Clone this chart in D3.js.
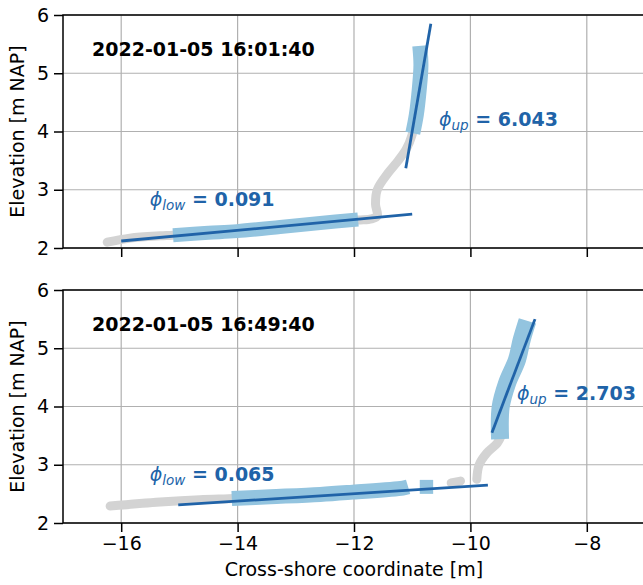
<!DOCTYPE html>
<html>
<head>
<meta charset="utf-8">
<script src="https://cdn.jsdelivr.net/npm/d3@7"></script>
<style>
  body { margin: 0; background: #fff; }
  text { font-family: "DejaVu Sans", sans-serif; }
</style>
</head>
<body>
<div id="chart"></div>
<script>
// tick values
const xTicks = [-16, -14, -12, -10, -8]
const yTicks = [2, 3, 4, 5, 6]

// panel 1 : 2022-01-05 16:01:40  (x, elevation)
const grayA = [[-16.24, 2.10], [-15.85, 2.17], [-15.33, 2.21], [-15.11, 2.22], [-14.01, 2.29], [-12.58, 2.43],
  [-11.93, 2.48], [-11.7, 2.50], [-11.6, 2.55], [-11.63, 2.75], [-11.6, 3.0], [-11.42, 3.28], [-11.24, 3.50],
  [-11.1, 3.70], [-11.0, 3.95], [-10.95, 4.2]]
const blueALow = [[-15.11, 2.22], [-14.5, 2.26], [-14.01, 2.29], [-13.27, 2.36], [-12.58, 2.43], [-11.93, 2.49]]
const blueAUp = [[-10.99, 3.97], [-10.93, 4.28], [-10.88, 4.71], [-10.85, 5.14], [-10.87, 5.47]]
const fitALow = [[-16, 2.12], [-11, 2.58]]
const fitAUp = [[-11.11, 3.37], [-10.68, 5.85]]

// panel 2 : 2022-01-05 16:49:40
const grayB = [[-16.19, 2.29], [-15.33, 2.36], [-14.65, 2.40], [-14.04, 2.42], [-13.44, 2.45]]
const grayBBlob = [[-10.33, 2.69], [-10.17, 2.72]]
const grayBRise = [[-9.89, 2.75], [-9.85, 3.0], [-9.72, 3.20], [-9.54, 3.37], [-9.47, 3.5]]
const blueBLow = [[-14.10, 2.42], [-13.44, 2.45], [-12.58, 2.49], [-12.02, 2.53], [-11.16, 2.60], [-11.07, 2.62]]
const blueBBlob = [[-10.87, 2.62], [-10.64, 2.62]]
const blueBUp = [[-9.49, 3.44], [-9.48, 3.99], [-9.37, 4.40], [-9.2, 4.80], [-9.12, 5.14], [-9.02, 5.47]]
const fitBLow = [[-15.02, 2.31], [-9.70, 2.65]]
const fitBUp = [[-9.63, 3.55], [-8.89, 5.50]]

const panels = [
  { title: "2022-01-05 16:01:40", top: 15, gray: [grayA], blue: [[blueALow, 14], [blueAUp, 15]],
    fits: [fitALow, fitAUp], low: "0.091", up: "6.043",
    lowPos: [-15.51, 2.72], upPos: [-10.54, 4.09], xlabels: false },
  { title: "2022-01-05 16:49:40", top: 290, gray: [grayB, grayBBlob, grayBRise], blue: [[blueBLow, 15], [blueBBlob, 14], [blueBUp, 18]],
    fits: [fitBLow, fitBUp], low: "0.065", up: "2.703",
    lowPos: [-15.51, 2.72], upPos: [-9.20, 4.11], xlabels: true }
]

const W = 643, H = 585
const left = 63, right = 645, ph = 233
const fs = 19

const svg = d3.select("#chart").append("svg")
  .attr("width", W)
  .attr("height", H)

const x = d3.scaleLinear().domain([-17, -7]).range([left, right])

const lightBlue = "#93c4df", darkBlue = "#2063a8", gray = "#d3d3d3"

panels.forEach(function(p) {
  const y = d3.scaleLinear().domain([2, 6]).range([p.top + ph, p.top])
  const g = svg.append("g")
  const line = d3.line().x(d => x(d[0])).y(d => y(d[1])).curve(d3.curveCatmullRom)

  // grid
  g.append("g")
    .selectAll("line")
    .data(xTicks)
    .join("line")
    .attr("x1", d => x(d)).attr("x2", d => x(d))
    .attr("y1", p.top).attr("y2", p.top + ph)
    .attr("stroke", "#b0b0b0").attr("stroke-width", 1.2)
  g.append("g")
    .selectAll("line")
    .data(yTicks)
    .join("line")
    .attr("x1", left).attr("x2", right)
    .attr("y1", d => y(d)).attr("y2", d => y(d))
    .attr("stroke", "#b0b0b0").attr("stroke-width", 1.2)

  // profile points
  p.gray.forEach(function(seg) {
    g.append("path")
      .attr("d", line(seg))
      .attr("fill", "none")
      .attr("stroke", gray)
      .attr("stroke-width", 9)
      .attr("stroke-linecap", "round")
      .attr("stroke-linejoin", "round")
  })
  p.blue.forEach(function(seg) {
    g.append("path")
      .attr("d", line(seg[0]))
      .attr("fill", "none")
      .attr("stroke", lightBlue)
      .attr("stroke-width", seg[1])
      .attr("stroke-linecap", "butt")
      .attr("stroke-linejoin", "round")
  })
  // fitted lines
  p.fits.forEach(function(f) {
    g.append("path")
      .attr("d", d3.line().x(d => x(d[0])).y(d => y(d[1]))(f))
      .attr("stroke", darkBlue)
      .attr("stroke-width", 2.8)
      .attr("fill", "none")
  })

  // axes
  const xAxis = d3.axisBottom(x).tickValues(xTicks).tickSize(9).tickPadding(5)
    .tickFormat(p.xlabels ? (d => d3.format("d")(d).replace("-", "\u2212")) : "")
  g.append("g")
    .attr("transform", "translate(0," + (p.top + ph) + ")")
    .call(xAxis)
    .call(a => a.select(".domain").remove())
    .call(a => a.selectAll("line").attr("stroke", "#000").attr("stroke-width", 1.5))
    .call(a => a.selectAll("text").attr("font-size", fs).attr("fill", "#000").attr("font-family", "DejaVu Sans"))

  g.append("g")
    .attr("transform", "translate(" + left + ",0)")
    .call(d3.axisLeft(y).tickValues(yTicks).tickSize(9).tickPadding(5).tickFormat(d3.format("d")))
    .call(a => a.select(".domain").remove())
    .call(a => a.selectAll("line").attr("stroke", "#000").attr("stroke-width", 1.5))
    .call(a => a.selectAll("text").attr("font-size", fs).attr("fill", "#000").attr("font-family", "DejaVu Sans"))

  // spines
  g.append("rect")
    .attr("x", left).attr("y", p.top)
    .attr("width", right - left).attr("height", ph)
    .attr("fill", "none").attr("stroke", "#000").attr("stroke-width", 1.5)

  // y label
  g.append("text")
    .attr("transform", "translate(24," + (p.top + ph / 2) + ") rotate(-90)")
    .attr("text-anchor", "middle")
    .attr("font-size", fs)
    .text("Elevation [m NAP]")

  // title
  g.append("text")
    .attr("x", 92).attr("y", p.top + 41)
    .attr("font-size", fs).attr("font-weight", "bold")
    .text(p.title)

  // slope labels
  function phi(pos, sub, val) {
    const t = g.append("text")
      .attr("x", x(pos[0])).attr("y", y(pos[1]))
      .attr("fill", darkBlue)
      .attr("font-size", fs)
    t.append("tspan").attr("font-style", "italic").text("\u03d5")
    t.append("tspan").attr("font-style", "italic").attr("font-size", 13.5).attr("dy", 4).text(sub)
    t.append("tspan").attr("font-weight", "bold").attr("dy", -4).text(" = " + val)
  }
  phi(p.lowPos, "low", p.low)
  phi(p.upPos, "up", p.up)
})

svg.append("text")
  .attr("x", 354).attr("y", 576)
  .attr("text-anchor", "middle")
  .attr("font-size", fs)
  .text("Cross-shore coordinate [m]")
</script>
</body>
</html>
